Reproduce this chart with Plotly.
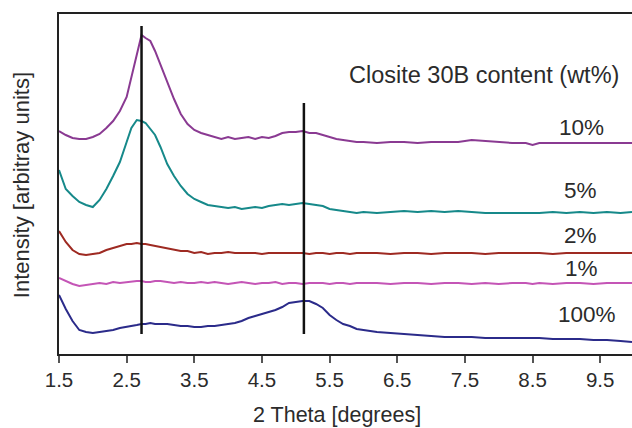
import plotly.graph_objects as go

# 2 theta grid shared by all patterns
theta = [1.5, 1.6, 1.7, 1.8, 1.9, 2.0, 2.1, 2.2, 2.3, 2.4, 2.5,
         2.57, 2.65, 2.72, 2.78, 2.85, 2.92,
         3.0, 3.1, 3.2, 3.3, 3.4, 3.5, 3.6, 3.7, 3.8, 3.9,
         4.0, 4.1, 4.2, 4.3, 4.4, 4.5, 4.6, 4.7, 4.8, 4.9,
         5.0, 5.1, 5.2, 5.3, 5.4, 5.5, 5.6, 5.7, 5.8, 5.9, 6.0,
         6.2, 6.4, 6.6, 6.8, 7.0, 7.2, 7.4, 7.6, 7.8, 8.0, 8.2, 8.4,
         8.5, 8.6, 8.8, 9.0, 9.2, 9.4, 9.6, 9.8, 9.97]

# intensities (arbitrary units, curves already offset)
i10 = [223, 219, 216, 215, 215, 217, 220, 226, 233, 243, 257,
       277, 300, 319, 316, 313, 303,
       289, 272, 255, 240, 230, 224, 221, 219, 217, 215,
       217, 215, 216, 217, 215, 217, 216, 218, 221, 222,
       222, 223, 221, 221, 219, 217, 215, 214, 213, 212, 212,
       211, 212, 212, 211, 212, 212, 212, 214, 213, 212, 211, 211,
       209, 211, 211, 211, 211, 211, 211, 211, 211]
i5 = [184, 165, 158, 152, 149, 147, 154, 165, 178, 192, 212,
      226, 234, 233, 231, 225, 219,
      207, 190, 178, 168, 160, 155, 152, 149, 148, 147,
      146, 147, 145, 146, 147, 146, 148, 149, 150, 149,
      150, 151, 150, 149, 148, 145, 144, 143, 142, 141, 142,
      141, 142, 143, 142, 143, 142, 143, 142, 141, 141, 141, 141,
      141, 141, 142, 141, 142, 141, 142, 141, 142]
i2 = [123, 112, 104, 100, 99, 100, 101, 104, 106, 108, 110,
      110, 111, 110, 110, 109, 108,
      107, 106, 104, 103, 103, 101, 102, 100, 101, 101,
      102, 101, 101, 101, 101, 100, 101, 101, 101, 101,
      101, 101, 100, 101, 101, 100, 101, 101, 100, 101, 101,
      101, 100, 101, 101, 100, 101, 101, 101, 100, 101, 101, 101,
      101, 101, 100, 101, 101, 101, 101, 101, 101]
i1 = [76, 73, 70, 68, 69, 70, 71, 70, 72, 71, 72,
      72, 73, 73, 72, 72, 73,
      73, 72, 71, 72, 71, 71, 72, 71, 72, 71,
      70, 71, 72, 71, 70, 71, 71, 72, 70, 71,
      71, 70, 71, 71, 71, 70, 71, 71, 70, 71, 71,
      71, 70, 71, 71, 70, 71, 71, 70, 71, 70, 71, 71,
      70, 71, 70, 71, 71, 70, 71, 71, 71]
i100 = [59, 45, 33, 24, 22, 21, 22, 23, 24, 26, 27,
        28, 29, 30, 30, 31, 30,
        30, 30, 29, 28, 28, 27, 27, 28, 28, 29,
        30, 31, 33, 36, 38, 40, 42, 44, 47, 51,
        52, 53, 53, 50, 46, 39, 34, 30, 28, 25, 24,
        22, 21, 20, 19, 18, 17, 17, 17, 16, 16, 16, 16,
        16, 16, 15, 15, 15, 14, 14, 13, 12]

labels = ['10%', '5%', '2%', '1%', '100%']
colors = ['#8a3a92', '#16898a', '#9e2a22', '#c455b6', '#2b2b8a']
series = [i10, i5, i2, i1, i100]

# reference peak positions and their line tops
peak_pos = [2.72, 5.12]
peak_top = [328, 251]
peak_bottom = 20

FONT = 'Arial, Liberation Sans, sans-serif'
TXT = '#2b2b2b'

fig = go.Figure()
for lab, col, ys in zip(labels, colors, series):
    assert len(ys) == len(theta), lab
    fig.add_trace(go.Scatter(x=theta, y=ys, mode='lines', name=lab,
                             line=dict(color=col, width=2)))

for xp, top in zip(peak_pos, peak_top):
    fig.add_trace(go.Scatter(x=[xp, xp], y=[peak_bottom, top], mode='lines',
                             line=dict(color='#111111', width=2.5),
                             showlegend=False))

# curve labels
lab_x = [9.22, 9.21, 9.21, 9.22, 9.31]
lab_y = [227, 164, 119, 86, 40]
for lab, lx, ly in zip(labels, lab_x, lab_y):
    fig.add_annotation(x=lx, y=ly, text=lab, showarrow=False,
                       font=dict(size=22.5, color=TXT, family=FONT))

fig.add_annotation(x=7.775, y=279, text='Closite 30B content (wt%)',
                   showarrow=False, font=dict(size=23.5, color=TXT, family=FONT))

# axis titles
fig.add_annotation(xref='paper', yref='paper', x=0.485, y=-0.179,
                   yanchor='middle', text='2 Theta [degrees]', showarrow=False,
                   font=dict(size=21.5, color=TXT, family=FONT))
fig.add_annotation(xref='paper', yref='paper', x=-0.066, xanchor='center',
                   y=0.497, text='Intensity [arbitray units]', textangle=-90,
                   showarrow=False, font=dict(size=22, color=TXT, family=FONT))

fig.update_layout(
    width=632, height=428,
    margin=dict(l=59, r=0, t=14, b=74),
    plot_bgcolor='white', paper_bgcolor='white',
    showlegend=False,
    font=dict(family=FONT, color=TXT, size=20),
)
fig.update_xaxes(range=[1.5, 9.97], tickvals=[1.5, 2.5, 3.5, 4.5, 5.5, 6.5, 7.5, 8.5, 9.5],
                 ticktext=['1.5', '2.5', '3.5', '4.5', '5.5', '6.5', '7.5', '8.5', '9.5'],
                 showline=True, linecolor='#222222', linewidth=1.5, mirror=True,
                 ticks='outside', ticklen=7, tickcolor='#555555', tickwidth=1.5,
                 showgrid=False, zeroline=False,
                 tickfont=dict(size=20.5, color=TXT, family=FONT))
fig.update_yaxes(range=[0, 340], showline=True, linecolor='#222222', linewidth=1.5,
                 showticklabels=False, ticks='', showgrid=False, zeroline=False)

# drop the default body margin so the figure fills the window exactly
fig.write_html("out.html", config={'displayModeBar': False},
               post_script="document.body.style.margin='0';")
